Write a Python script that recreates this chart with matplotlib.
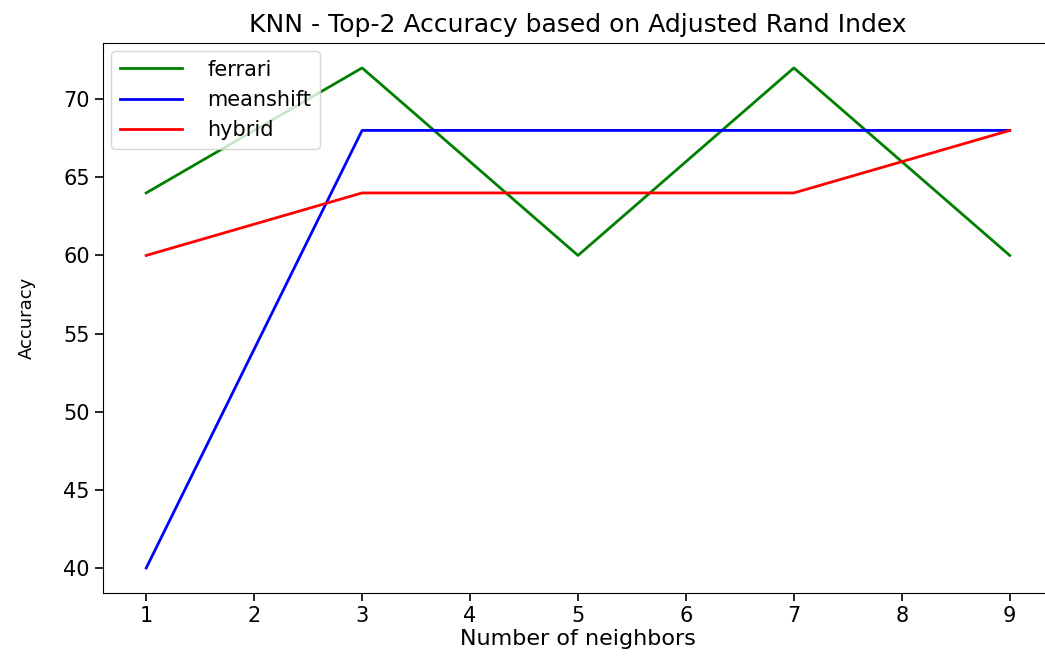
import matplotlib
matplotlib.use("Agg")
import matplotlib.pyplot as plt

neighbors = [1, 3, 5, 7, 9]
ferrari = [64, 72, 60, 72, 60]
meanshift = [40, 68, 68, 68, 68]
hybrid = [60, 64, 64, 64, 68]

fig = plt.figure(figsize=(10.45, 6.6), dpi=100)
ax = fig.add_axes([0.0986, 0.1015, 0.909, 0.8335])

ax.plot(neighbors, ferrari, color="green", lw=2, label="ferrari")
ax.plot(neighbors, meanshift, color="blue", lw=2, label="meanshift")
ax.plot(neighbors, hybrid, color="red", lw=2, label="hybrid")

ax.set_xticks(range(1, 10))
ax.tick_params(labelsize=15, length=6, width=1.2)
# the reference is cropped on the right, so the right border is out of frame
ax.spines["right"].set_visible(False)
ax.set_title("KNN - Top-2 Accuracy based on Adjusted Rand Index", fontsize=18, pad=8)
ax.set_xlabel("Number of neighbors", fontsize=16, labelpad=2)
ax.set_ylabel("Accuracy", fontsize=13, labelpad=20)
ax.legend(loc="upper left", fontsize=15, handlelength=3, handletextpad=1.2,
          borderaxespad=0.4)

fig.savefig("out.png", dpi=100)
